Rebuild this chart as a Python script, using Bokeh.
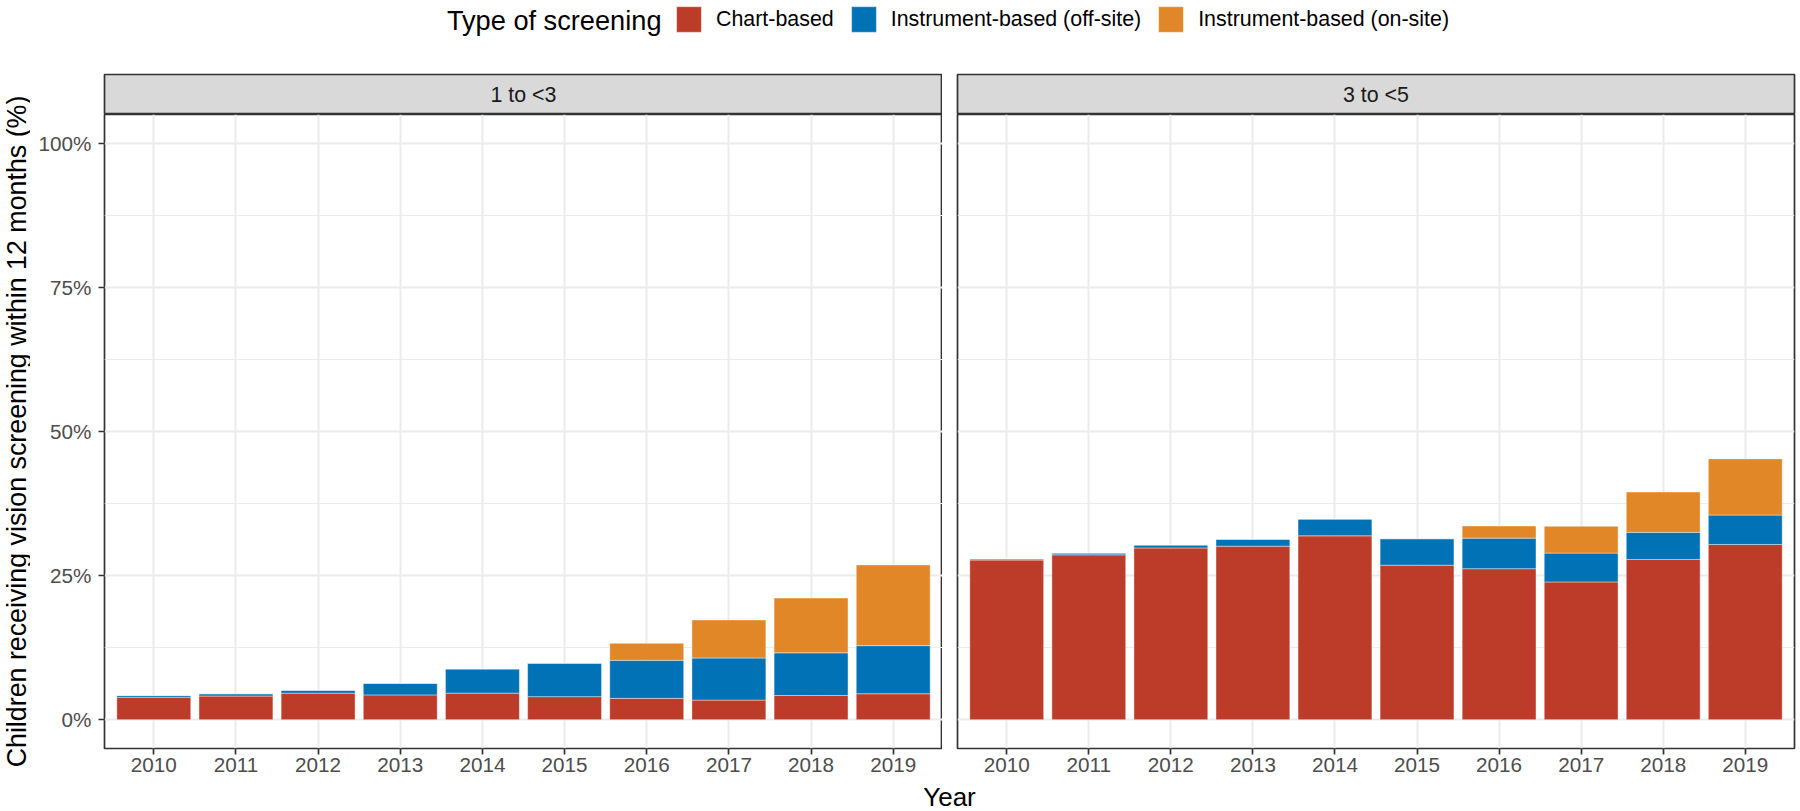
import math
from bokeh.plotting import figure
from bokeh.models import (FactorRange, Range1d, FixedTicker, PrintfTickFormatter,
                          Legend, LegendItem, ColumnDataSource, Label)
from bokeh.layouts import column, row
from bokeh.embed import file_html
from bokeh.resources import INLINE
from bokeh.core.properties import value

# ---------------- data ----------------
years = ["2010", "2011", "2012", "2013", "2014", "2015", "2016", "2017", "2018", "2019"]
panels = ["1 to <3", "3 to <5"]
series = ["Chart-based", "Instrument-based (off-site)", "Instrument-based (on-site)"]
colors = ["#BC3C29", "#0072B5", "#E18727"]

chart_1to3 = [3.9, 4.1, 4.6, 4.3, 4.6, 4.0, 3.7, 3.4, 4.2, 4.5]
offsite_1to3 = [0.3, 0.4, 0.5, 2.0, 4.2, 5.8, 6.6, 7.3, 7.4, 8.35]
onsite_1to3 = [0.0, 0.0, 0.0, 0.0, 0.0, 0.0, 2.95, 6.6, 9.5, 14.0]

chart_3to5 = [27.7, 28.6, 29.8, 30.1, 31.9, 26.8, 26.2, 23.9, 27.8, 30.4]
offsite_3to5 = [0.2, 0.3, 0.5, 1.2, 2.9, 4.6, 5.3, 5.0, 4.7, 5.1]
onsite_3to5 = [0.0, 0.0, 0.0, 0.0, 0.0, 0.0, 2.1, 4.65, 7.0, 9.75]

y_ticks = [0, 25, 50, 75, 100]
y_minor = [12.5, 37.5, 62.5, 87.5]
legend_title = "Type of screening"
x_title = "Year"
y_title = "Children receiving vision screening within 12 months (%)"

# ---------------- style / layout ----------------
FONT = "Liberation Sans"
W = 1800
LEG_H = 73
STRIP_H = 41
YT_W = 30
FRAME_L = 838
FRAME_R = 837
LEFT_B = 74
GAP = 15
RIGHT_PAD = 6
FRAME_H = 634
BOTTOM_B = 33
PANEL_H = FRAME_H + BOTTOM_B
YEAR_H = 811 - LEG_H - STRIP_H - PANEL_H
BORDER = "#333333"
GRID = "#EBEBEB"
TICK_FS = "20.7px"
SMALL_FS = "21.4px"


def fig_width(left):
    return (LEFT_B + FRAME_L) if left else (GAP + FRAME_R + RIGHT_PAD)


def make_strip(name, left):
    s = figure(width=fig_width(left), height=STRIP_H,
               x_range=Range1d(0, 1), y_range=Range1d(0, 1),
               x_axis_type=None, y_axis_type=None,
               min_border_left=LEFT_B if left else GAP,
               min_border_right=0 if left else RIGHT_PAD,
               min_border_top=1, min_border_bottom=0,
               toolbar_location=None, output_backend="svg")
    s.grid.visible = False
    s.background_fill_color = "#D9D9D9"
    s.border_fill_color = "white"
    s.outline_line_color = BORDER
    s.outline_line_width = 1.7
    s.text(x=[0.5], y=[0.5], text=[name], text_align="center", text_baseline="middle",
           text_font=value(FONT), text_font_size=SMALL_FS, text_color="#1A1A1A")
    return s


def make_panel(src, left):
    p = figure(width=fig_width(left), height=PANEL_H,
               x_range=FactorRange(factors=years, range_padding=0.02),
               y_range=Range1d(-5, 105),
               min_border_left=LEFT_B if left else GAP,
               min_border_right=0 if left else RIGHT_PAD,
               min_border_top=0, min_border_bottom=BOTTOM_B,
               toolbar_location=None, output_backend="svg")
    p.vbar_stack(["chart", "off", "on"], x="year", width=0.9, source=src,
                 fill_color=colors, line_color="white", line_width=0.6, line_alpha=0.7)
    p.background_fill_color = "white"
    p.border_fill_color = "white"
    p.outline_line_color = BORDER
    p.outline_line_width = 1.7

    tick = FixedTicker(ticks=y_ticks, minor_ticks=y_minor)
    p.yaxis.ticker = tick
    p.ygrid.ticker = tick
    p.xgrid.grid_line_color = GRID
    p.xgrid.grid_line_width = 2
    p.ygrid.grid_line_color = GRID
    p.ygrid.grid_line_width = 2
    p.ygrid.minor_grid_line_color = GRID
    p.ygrid.minor_grid_line_width = 1

    xa = p.xaxis[0]
    xa.axis_line_color = None
    xa.major_tick_line_color = BORDER
    xa.major_tick_line_width = 1.7
    xa.major_tick_out = 6
    xa.major_tick_in = 0
    xa.major_label_standoff = 3
    xa.major_label_text_font = FONT
    xa.major_label_text_font_size = TICK_FS
    xa.major_label_text_color = "#4D4D4D"

    ya = p.yaxis[0]
    if left:
        ya.formatter = PrintfTickFormatter(format="%d%%")
        ya.axis_line_color = None
        ya.major_tick_line_color = BORDER
        ya.major_tick_line_width = 1.7
        ya.major_tick_out = 6
        ya.major_tick_in = 0
        ya.minor_tick_line_color = None
        ya.major_label_standoff = 7
        ya.major_label_text_font = FONT
        ya.major_label_text_font_size = TICK_FS
        ya.major_label_text_color = "#4D4D4D"
    else:
        ya.visible = False
    return p


src_1to3 = ColumnDataSource(dict(year=years, chart=chart_1to3, off=offsite_1to3, on=onsite_1to3))
src_3to5 = ColumnDataSource(dict(year=years, chart=chart_3to5, off=offsite_3to5, on=onsite_3to5))

strip_l = make_strip(panels[0], True)
strip_r = make_strip(panels[1], False)
panel_l = make_panel(src_1to3, True)
panel_r = make_panel(src_3to5, False)

# ---------------- y title ----------------
yt = figure(width=YT_W, height=STRIP_H + PANEL_H, x_range=Range1d(0, 1), y_range=Range1d(0, 1),
            x_axis_type=None, y_axis_type=None, min_border=0,
            toolbar_location=None, output_backend="svg")
yt.grid.visible = False
yt.outline_line_color = None
yt.border_fill_color = "white"
yt.background_fill_color = "white"
yt.add_layout(Label(x=16, y=BOTTOM_B + FRAME_H / 2, x_units="screen", y_units="screen",
                    text=y_title, angle=math.pi / 2, text_align="center", text_baseline="middle",
                    text_font=FONT, text_font_size="26.8px", text_color="black"))

# ---------------- legend ----------------
# legend swatches use the data of the first panel; this figure's y-range keeps the bars out of view
lf = figure(width=W, height=LEG_H, x_range=FactorRange(factors=years), y_range=Range1d(1000, 1001),
            x_axis_type=None, y_axis_type=None, min_border=0,
            toolbar_location=None, output_backend="svg")
lf.grid.visible = False
lf.outline_line_color = None
lf.background_fill_color = "white"
lf.border_fill_color = "white"
legend_renderers = lf.vbar_stack(["chart", "off", "on"], x="year", width=0.9, source=src_1to3,
                                 fill_color=colors, line_color="white", line_width=0.6,
                                 line_alpha=0.7)
items = [LegendItem(label=name, renderers=[r]) for name, r in zip(series, legend_renderers)]
leg = Legend(items=items, orientation="horizontal", location=(673, 38),
             glyph_width=31, glyph_height=32, label_standoff=12, spacing=14,
             padding=0, margin=0, border_line_color=None, background_fill_alpha=0,
             label_text_font=FONT, label_text_font_size=SMALL_FS, label_text_color="black")
lf.add_layout(leg)
lf.add_layout(Label(x=661, y=LEG_H - 19.5, x_units="screen", y_units="screen",
                    text=legend_title, text_align="right", text_baseline="middle",
                    text_font=FONT, text_font_size="27.2px", text_color="black"))

# ---------------- x title ----------------
yf = figure(width=W, height=YEAR_H, x_range=Range1d(0, 1), y_range=Range1d(0, 1),
            x_axis_type=None, y_axis_type=None, min_border=0,
            toolbar_location=None, output_backend="svg")
yf.grid.visible = False
yf.outline_line_color = None
yf.border_fill_color = "white"
yf.background_fill_color = "white"
center_x = (YT_W + LEFT_B + YT_W + LEFT_B + FRAME_L + GAP + FRAME_R) / 2
yf.add_layout(Label(x=center_x, y=YEAR_H / 2, x_units="screen", y_units="screen",
                    text=x_title, text_align="center", text_baseline="middle",
                    text_font=FONT, text_font_size="26px", text_color="black"))

layout = column(lf,
                row(yt, column(strip_l, panel_l), column(strip_r, panel_r)),
                yf)

open("out.html", "w").write(file_html(layout, INLINE))
